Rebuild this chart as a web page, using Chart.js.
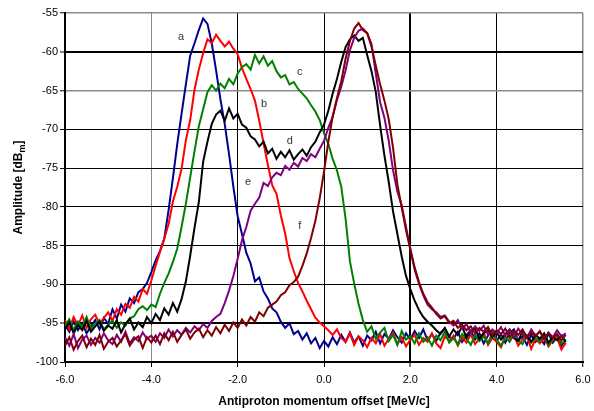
<!DOCTYPE html>
<html>
<head>
<meta charset="utf-8">
<script src="https://cdn.jsdelivr.net/npm/chart.js@4"></script>
<style>
  body { margin: 0; background: #fff; }
  #chart { display: block; }
</style>
</head>
<body>
<canvas id="chart" width="594" height="411"></canvas>
<script>
// momentum offset [MeV/c]
const offsets = [
  -6.0,-5.9,-5.8,-5.7,-5.6,-5.5,-5.4,-5.3,-5.2,-5.1,
  -5.0,-4.9,-4.8,-4.7,-4.6,-4.5,-4.4,-4.3,-4.2,-4.1,
  -4.0,-3.9,-3.8,-3.7,-3.6,-3.5,-3.4,-3.3,-3.2,-3.1,
  -3.0,-2.9,-2.8,-2.7,-2.6,-2.5,-2.4,-2.3,-2.2,-2.1,
  -2.0,-1.9,-1.8,-1.7,-1.6,-1.5,-1.4,-1.3,-1.2,-1.1,
  -1.0,-0.9,-0.8,-0.7,-0.6,-0.5,-0.4,-0.3,-0.2,-0.1,
  0.0,0.1,0.2,0.3,0.4,0.5,0.6,0.7,0.8,0.9,
  1.0,1.1,1.2,1.3,1.4,1.5,1.6,1.7,1.8,1.9,
  2.0,2.1,2.2,2.3,2.4,2.5,2.6,2.7,2.8,2.9,
  3.0,3.1,3.2,3.3,3.4,3.5,3.6,3.7,3.8,3.9,
  4.0,4.1,4.2,4.3,4.4,4.5,4.6,4.7,4.8,4.9,
  5.0,5.1,5.2,5.3,5.4,5.5,5.6
];

// amplitude [dBm] for each trace
const traceA = [
  -95.2,-96.1,-94.8,-95.9,-95.0,-96.3,-95.4,-94.6,-95.8,-94.3,
  -95.1,-93.2,-94.4,-92.6,-93.5,-91.8,-92.4,-91.0,-90.6,-89.8,
  -88.4,-86.9,-85.7,-84.1,-80.4,-76.3,-71.9,-68.0,-64.2,-60.5,
  -58.9,-57.2,-55.7,-56.4,-58.9,-62.4,-66.1,-69.3,-73.2,-77.4,
  -81.2,-83.5,-85.9,-87.3,-89.6,-89.1,-90.9,-91.8,-93.1,-93.6,
  -94.8,-95.6,-95.0,-96.4,-96.0,-97.1,-96.3,-97.6,-96.9,-98.2,
  -97.3,-98.0,-96.8,-97.7,-96.5,-97.4,-96.2,-97.5,-96.7,-97.9,
  -96.6,-97.2,-96.1,-97.6,-96.4,-97.0,-95.9,-96.8,-97.5,-96.3,
  -97.1,-96.0,-96.9,-95.8,-97.2,-96.4,-97.3,-96.2,-95.7,-96.8,
  -97.0,-96.1,-97.4,-96.5,-95.9,-97.1,-96.3,-97.6,-96.6,-96.0,
  -97.3,-96.4,-97.5,-96.2,-95.8,-97.2,-96.7,-97.8,-96.5,-97.4,
  -96.9,-97.7,-96.3,-97.5,-96.8,-97.9,-97.1
];
const traceB = [
  -94.6,-95.8,-94.2,-95.3,-94.0,-95.6,-94.5,-93.9,-95.1,-94.3,
  -93.6,-94.7,-93.2,-93.9,-92.5,-93.0,-91.6,-92.2,-90.6,-91.2,
  -89.5,-87.6,-85.8,-84.1,-82.2,-79.3,-77.4,-75.1,-71.4,-68.8,
  -64.9,-62.3,-60.2,-58.4,-58.9,-57.8,-58.6,-59.3,-58.7,-59.6,
  -60.3,-62.1,-63.5,-64.8,-66.3,-68.9,-71.8,-74.6,-77.2,-78.3,
  -81.1,-83.4,-86.6,-88.3,-89.8,-90.9,-92.1,-93.2,-94.3,-94.9,
  -95.4,-95.9,-96.5,-95.8,-96.9,-97.4,-96.3,-97.8,-96.7,-97.2,
  -98.1,-96.9,-97.6,-96.4,-97.9,-97.0,-96.2,-97.7,-96.8,-98.0,
  -97.1,-96.5,-97.8,-96.9,-97.4,-96.3,-97.6,-98.2,-96.7,-97.3,
  -96.6,-97.9,-96.8,-97.5,-96.4,-97.7,-97.0,-96.2,-97.8,-96.9,
  -97.4,-98.1,-96.7,-97.3,-96.5,-97.9,-97.1,-96.6,-98.3,-97.0,
  -97.6,-96.8,-98.0,-97.2,-96.9,-98.4,-97.5
];
const traceC = [
  -95.3,-94.5,-95.9,-94.8,-95.5,-94.2,-95.7,-95.0,-94.6,-95.8,
  -95.2,-94.7,-95.6,-94.9,-95.3,-94.4,-94.1,-93.2,-92.8,-93.3,
  -92.6,-92.9,-91.2,-89.8,-88.6,-87.1,-85.4,-82.6,-79.6,-76.2,
  -72.8,-69.6,-67.4,-65.2,-64.3,-65.0,-64.1,-64.7,-63.5,-64.2,
  -62.8,-62.0,-61.6,-62.3,-60.4,-61.5,-60.6,-61.8,-61.2,-62.5,
  -63.3,-63.0,-64.2,-63.9,-64.8,-65.4,-66.0,-66.9,-67.7,-68.8,
  -70.5,-71.9,-73.8,-75.3,-77.4,-81.5,-87.0,-89.9,-92.5,-94.6,
  -96.1,-95.4,-97.0,-96.2,-95.6,-97.3,-96.5,-97.8,-96.0,-97.1,
  -96.7,-97.6,-96.3,-97.4,-96.8,-97.9,-96.6,-97.2,-96.1,-97.5,
  -96.9,-97.7,-96.4,-97.0,-97.8,-96.5,-97.3,-96.7,-97.6,-96.2,
  -97.1,-97.9,-96.8,-97.4,-96.3,-97.2,-97.7,-96.6,-97.5,-96.9,
  -97.3,-96.4,-97.8,-97.0,-96.5,-97.6,-97.2
];
const traceD = [
  -95.8,-94.9,-96.3,-95.2,-95.9,-94.7,-96.1,-95.4,-94.8,-96.0,
  -95.3,-95.7,-94.6,-96.2,-95.1,-94.4,-95.8,-94.9,-95.5,-94.2,
  -95.0,-93.8,-94.6,-93.1,-93.9,-92.4,-93.5,-91.9,-89.6,-86.3,
  -82.7,-79.4,-74.2,-71.6,-69.3,-68.1,-67.6,-68.9,-67.3,-68.6,
  -68.0,-69.4,-69.8,-70.9,-71.3,-72.2,-71.6,-73.1,-72.5,-73.8,
  -72.9,-73.6,-72.7,-73.9,-73.2,-72.6,-73.4,-72.3,-71.6,-70.4,
  -69.4,-67.6,-65.4,-63.5,-61.3,-59.4,-58.4,-57.9,-58.6,-58.2,
  -60.4,-62.5,-65.2,-69.5,-73.4,-76.8,-80.6,-83.5,-86.4,-88.9,
  -90.6,-92.1,-93.3,-94.2,-94.8,-95.3,-95.9,-96.4,-95.6,-96.7,
  -95.8,-96.5,-95.4,-96.9,-96.1,-95.7,-97.0,-96.3,-95.9,-96.8,
  -96.2,-97.1,-96.4,-95.8,-96.9,-97.3,-96.0,-96.7,-97.4,-96.5,
  -97.0,-96.3,-97.5,-96.8,-97.2,-96.6,-97.4
];
const traceE = [
  -96.8,-97.9,-96.4,-98.2,-97.1,-96.6,-97.8,-96.9,-97.5,-96.3,
  -97.2,-97.7,-96.5,-97.4,-96.1,-97.6,-96.8,-97.3,-96.2,-97.0,
  -96.6,-97.4,-96.3,-96.9,-95.8,-96.7,-95.9,-96.5,-95.6,-96.2,
  -95.4,-95.9,-95.1,-95.6,-94.7,-94.2,-93.8,-92.4,-90.8,-88.9,
  -86.7,-84.3,-82.6,-80.5,-79.6,-78.8,-76.9,-77.3,-76.2,-75.6,
  -75.9,-74.7,-75.2,-74.3,-74.8,-73.7,-74.1,-73.2,-73.6,-72.5,
  -71.5,-69.8,-68.4,-66.2,-64.5,-62.4,-59.8,-58.2,-57.3,-57.0,
  -57.6,-59.0,-62.8,-66.5,-68.5,-71.5,-75.3,-78.0,-79.8,-82.6,
  -85.4,-88.1,-89.9,-91.4,-92.6,-93.2,-93.6,-94.2,-94.0,-94.8,
  -95.3,-94.6,-95.7,-95.1,-96.2,-95.4,-96.0,-95.3,-96.5,-95.8,
  -96.3,-95.5,-96.6,-95.9,-96.8,-95.7,-96.4,-96.9,-95.8,-96.6,
  -96.1,-97.0,-96.2,-96.8,-95.9,-96.7,-96.3
];
const traceF = [
  -97.9,-96.8,-98.4,-97.3,-96.6,-98.1,-97.0,-97.8,-96.5,-98.3,
  -97.4,-96.9,-98.0,-97.2,-96.4,-97.9,-97.1,-96.7,-98.2,-96.8,
  -97.5,-96.6,-97.7,-96.3,-97.2,-96.1,-97.4,-96.5,-95.8,-97.0,
  -96.2,-95.7,-96.8,-95.9,-96.6,-95.5,-96.3,-95.2,-96.0,-94.9,
  -95.6,-94.5,-95.3,-94.2,-94.8,-93.6,-94.1,-93.0,-92.6,-92.2,
  -91.4,-91.0,-90.1,-89.7,-89.0,-87.6,-86.0,-84.0,-81.8,-78.9,
  -75.5,-71.6,-68.4,-66.0,-63.8,-60.9,-58.6,-57.0,-56.3,-57.2,
  -57.6,-59.3,-61.8,-64.2,-66.3,-68.7,-72.4,-77.1,-80.1,-83.0,
  -85.5,-87.8,-89.7,-91.2,-92.3,-93.0,-93.8,-94.4,-94.1,-95.0,
  -94.7,-95.6,-95.2,-95.9,-95.4,-96.3,-95.6,-96.1,-95.5,-96.6,
  -95.9,-96.4,-95.7,-96.8,-96.0,-96.5,-95.8,-96.9,-96.2,-96.7,
  -96.0,-97.1,-96.3,-96.9,-96.4,-97.2,-96.5
];

const traceNames = ["a", "b", "c", "d", "e", "f"];
const traceColors = ["#000090", "#ff0000", "#008000", "#000000", "#800080", "#800000"];
// where the little letters sit (data coords)
const noteX = [-3.31, -1.39, -0.56, -0.79, -1.76, -0.56];
const noteY = [-58.1, -66.7, -62.6, -71.5, -76.8, -82.4];

const xTitle = "Antiproton momentum offset [MeV/c]";
const yTitle = "Amplitude [dB";
const yTitleSub = "m";

const traces = [traceA, traceB, traceC, traceD, traceE, traceF];

const textPlugin = {
    id: "textPlugin",
    afterDraw(chart) {
        const ctx = chart.ctx;
        const xs = chart.scales.x, ys = chart.scales.y;
        ctx.save();
        ctx.fillStyle = "#333";
        ctx.font = "11px 'Liberation Sans', Arial, sans-serif";
        ctx.textAlign = "center";
        ctx.textBaseline = "middle";
        traceNames.forEach((n, i) => {
            ctx.fillText(n, xs.getPixelForValue(noteX[i]), ys.getPixelForValue(noteY[i]));
        });

        ctx.fillStyle = "#000";
        ctx.font = "bold 12px 'Liberation Sans', Arial, sans-serif";
        ctx.fillText(xTitle, (chart.chartArea.left + chart.chartArea.right) / 2, 402);

        // y title with subscript m
        const cy = (chart.chartArea.top + chart.chartArea.bottom) / 2;
        ctx.translate(18, cy);
        ctx.rotate(-Math.PI / 2);
        ctx.textAlign = "left";
        ctx.textBaseline = "alphabetic";
        const big = "bold 12px 'Liberation Sans', Arial, sans-serif";
        const small = "bold 9px 'Liberation Sans', Arial, sans-serif";
        ctx.font = big;
        const w1 = ctx.measureText(yTitle).width;
        const w3 = ctx.measureText("]").width;
        ctx.font = small;
        const w2 = ctx.measureText(yTitleSub).width;
        let x0 = -(w1 + w2 + w3) / 2;
        ctx.font = big;
        ctx.fillText(yTitle, x0, 4);
        ctx.font = small;
        ctx.fillText(yTitleSub, x0 + w1, 7);
        ctx.font = big;
        ctx.fillText("]", x0 + w1 + w2, 4);
        ctx.restore();
    }
};

const tickFont = { family: "'Liberation Sans', Arial, sans-serif", size: 11 };

new Chart(document.getElementById("chart"), {
    type: "line",
    data: {
        labels: offsets,
        datasets: traces.map((t, i) => ({
            label: traceNames[i],
            data: t,
            borderColor: traceColors[i],
            borderWidth: 2,
            pointRadius: 0,
            tension: 0,
            fill: false,
            order: traces.length - i
        }))
    },
    options: {
        responsive: false,
        animation: false,
        devicePixelRatio: 1,
        layout: { padding: { left: 0, right: 11, top: 13, bottom: 0 } },
        plugins: {
            legend: { display: false },
            tooltip: { enabled: false }
        },
        scales: {
            x: {
                type: "linear",
                min: -6,
                max: 6,
                afterFit: s => { s.height = 49; s.paddingRight = 0; s.paddingLeft = 0; },
                ticks: {
                    stepSize: 2,
                    color: "#000",
                    font: tickFont,
                    padding: 6,
                    maxRotation: 0,
                    callback: v => v.toFixed(1)
                },
                grid: {
                    color: c => (c.tick && (c.tick.value === -4 || c.tick.value === 6)) ? "#8a8a8a" : "#000",
                    lineWidth: c => {
                        const v = c.tick && c.tick.value;
                        if (v === 2) return 2;
                        if (v === 6) return 1.5;
                        return 1;
                    },
                    tickColor: "#000",
                    tickWidth: 1,
                    tickLength: 5
                },
                border: { color: "#000", width: 2 }
            },
            y: {
                min: -100,
                max: -55,
                afterFit: s => { s.width = 65; },
                ticks: {
                    stepSize: 5,
                    color: "#000",
                    font: tickFont,
                    padding: 2
                },
                grid: {
                    color: c => (c.tick && (c.tick.value === -55 || c.tick.value === -65)) ? "#8a8a8a" : "#000",
                    lineWidth: c => {
                        const v = c.tick && c.tick.value;
                        if (v === -60 || v === -95) return 2;
                        if (v === -55 || v === -65) return 1.5;
                        return 1;
                    },
                    tickColor: "#000",
                    tickWidth: 1,
                    tickLength: 5
                },
                border: { color: "#000", width: 2 }
            }
        }
    },
    plugins: [textPlugin]
});
</script>
</body>
</html>
